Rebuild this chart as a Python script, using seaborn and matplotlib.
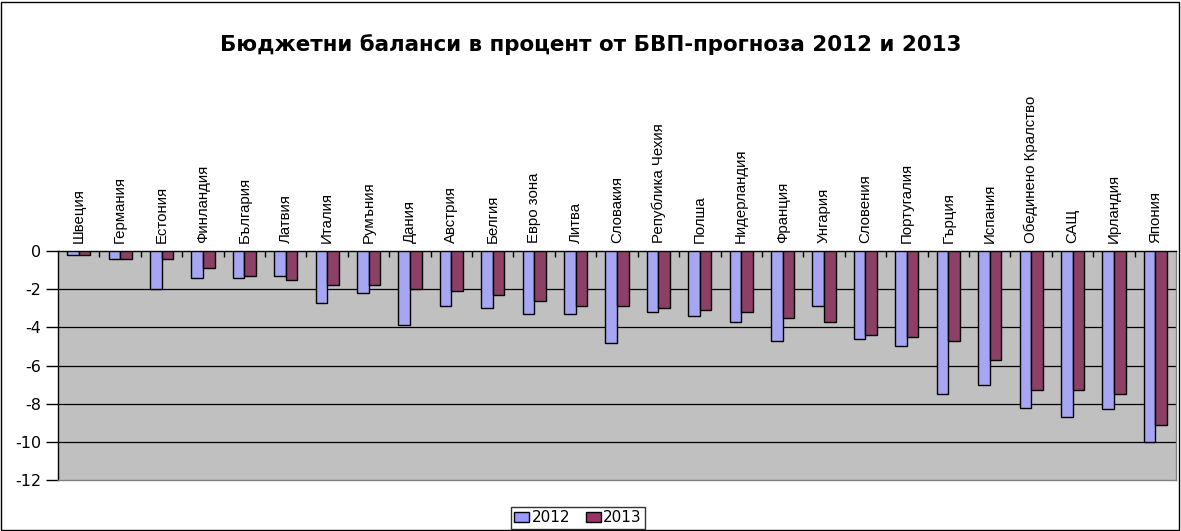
import pandas as pd
import matplotlib
matplotlib.use("Agg")
import matplotlib.pyplot as plt
import seaborn as sns
from matplotlib.patches import Patch, Rectangle
from matplotlib.ticker import FixedLocator

# Data
countries = ["Швеция", "Германия", "Естония", "Финландия", "България", "Латвия",
             "Италия", "Румъния", "Дания", "Австрия", "Белгия", "Евро зона",
             "Литва", "Словакия", "Република Чехия", "Полша", "Нидерландия",
             "Франция", "Унгария", "Словения", "Португалия", "Гърция", "Испания",
             "Обединено Кралство", "САЩ", "Ирландия", "Япония"]
values_2012 = [-0.2, -0.4, -2.0, -1.4, -1.4, -1.3, -2.7, -2.2, -3.9, -2.9, -3.0, -3.3,
               -3.3, -4.8, -3.2, -3.4, -3.7, -4.7, -2.9, -4.6, -5.0, -7.5, -7.0,
               -8.2, -8.7, -8.3, -10.0]
values_2013 = [-0.2, -0.4, -0.4, -0.9, -1.3, -1.5, -1.8, -1.8, -2.0, -2.1, -2.3, -2.6,
               -2.9, -2.9, -3.0, -3.1, -3.2, -3.5, -3.7, -4.4, -4.5, -4.7, -5.7,
               -7.3, -7.3, -7.5, -9.1]
years = ["2012", "2013"]
colors = ["#9999FF", "#993366"]
yticks = [0, -2, -4, -6, -8, -10, -12]

df = pd.DataFrame({"country": countries, "2012": values_2012, "2013": values_2013})
df = df.melt(id_vars="country", var_name="year", value_name="value")

sns.set_theme(style="white")
plt.rcParams["font.family"] = ["DejaVu Sans"]
plt.rcParams["axes.unicode_minus"] = False
plt.rcParams["text.color"] = "black"
plt.rcParams["xtick.color"] = "black"
plt.rcParams["ytick.color"] = "black"

fig = plt.figure(figsize=(11.81, 5.31), dpi=100)
ax = fig.add_axes([0.0491, 0.0960, 0.9467, 0.4313])
ax.set_facecolor("#C0C0C0")

sns.barplot(data=df, x="country", y="value", hue="year", hue_order=years,
            palette=colors, edgecolor="black", linewidth=1, width=0.56,
            legend=False, ax=ax, zorder=3)

ax.set_ylim(-12, 0)
ax.set_xlim(-0.5, len(countries) - 0.5)
ax.set_yticks(yticks)
ax.set_yticklabels([str(v) for v in yticks], fontsize=11.5)
for v in yticks[1:-1]:
    ax.axhline(v, color="black", lw=0.9, zorder=1)

# category labels above the zero line
ax.xaxis.tick_top()
ax.set_xticks(range(len(countries)))
ax.set_xticklabels(countries, rotation=90, fontsize=10.8, family="Liberation Sans")
ax.tick_params(axis="x", which="major", length=0, pad=6, top=True, bottom=False)
ax.xaxis.set_minor_locator(FixedLocator([i + 0.5 for i in range(len(countries) - 1)]))
ax.tick_params(axis="x", which="minor", direction="in", length=4, width=1,
               color="black", top=True, bottom=False)
ax.tick_params(axis="y", direction="out", length=9, width=1, color="black",
               left=True, pad=3)
ax.set_xlabel("")
ax.set_ylabel("")

ax.spines["top"].set_color("black")
ax.spines["left"].set_color("black")
ax.spines["right"].set_color("#808080")
ax.spines["bottom"].set_color("#808080")
for s in ax.spines.values():
    s.set_linewidth(1)

fig.text(0.5, 0.917, "Бюджетни баланси в процент от БВП-прогноза 2012 и 2013",
         ha="center", va="center", fontsize=15.4, fontweight="bold", color="black")

handles = [Patch(facecolor=c, edgecolor="black", label=y) for c, y in zip(colors, years)]
fig.legend(handles=handles, loc="center", bbox_to_anchor=(0.4894, 0.0245), ncol=2,
           frameon=True, fancybox=False, edgecolor="black", fontsize=11,
           handlelength=1.0, handleheight=0.6, handletextpad=0.15, columnspacing=1.0,
           borderpad=0.2, borderaxespad=0)

fig.add_artist(Rectangle((0.001, 0.002), 0.997, 0.995, transform=fig.transFigure,
                         fill=False, edgecolor="black", lw=1))

fig.savefig("out.png", dpi=100)
